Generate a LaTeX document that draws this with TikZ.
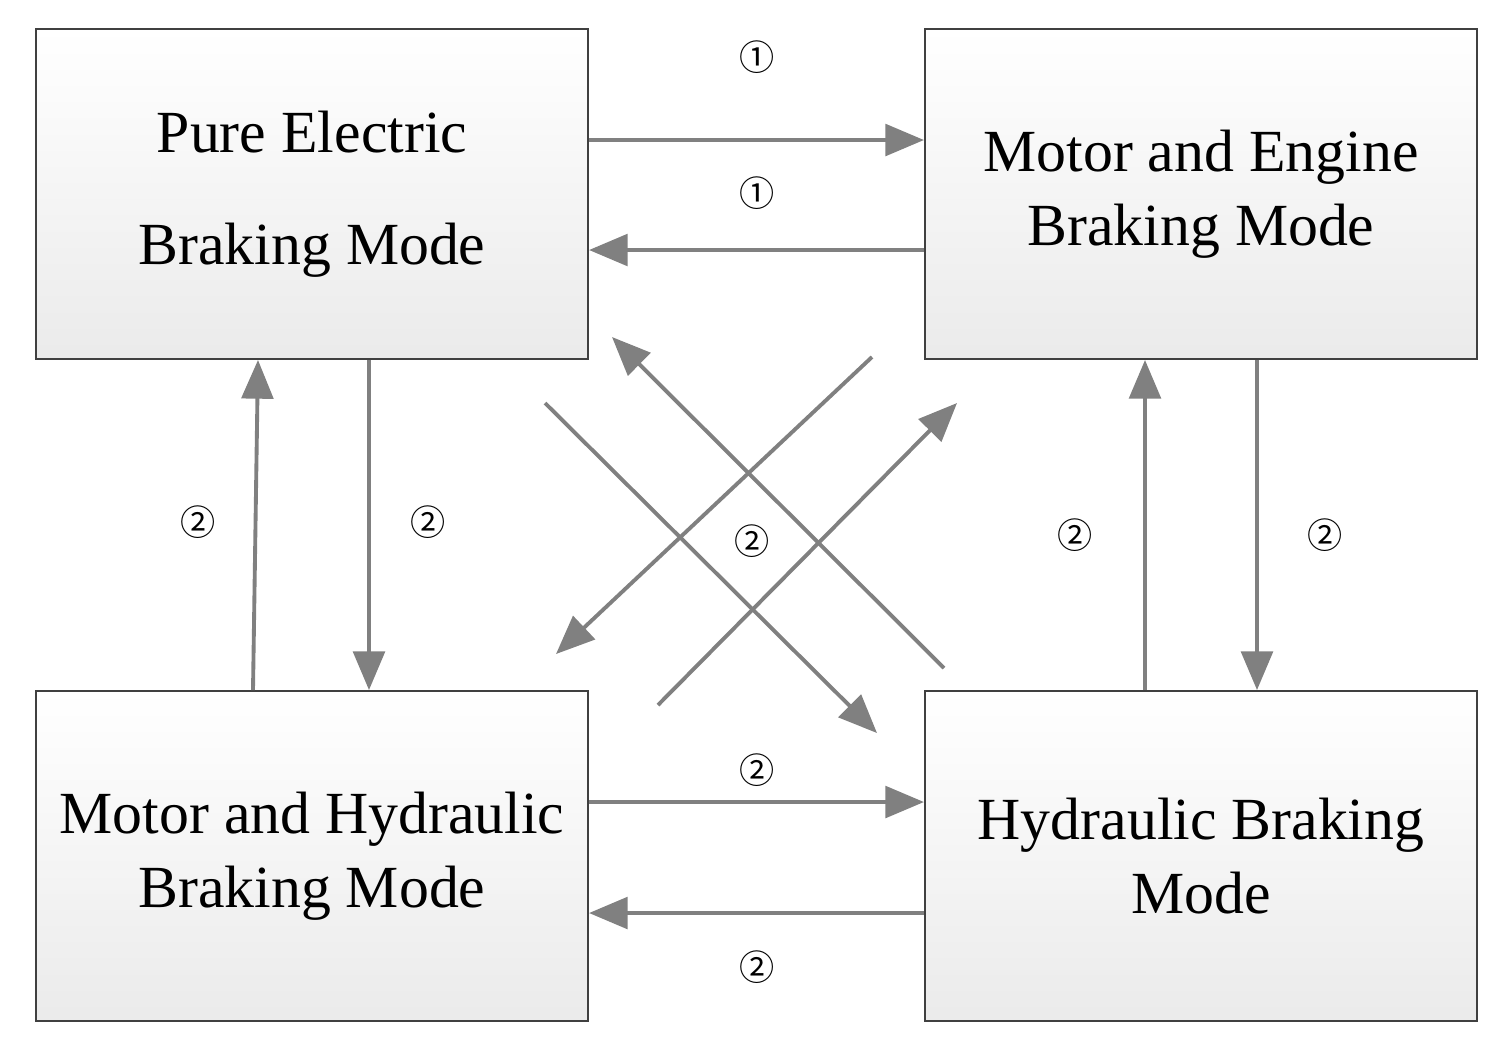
\documentclass[tikz,border=0pt]{standalone}
\usepackage{fontspec}
\setmainfont{Liberation Serif}
\newfontfamily\cjk{Noto Sans CJK SC}
\usetikzlibrary{arrows.meta, positioning}
\definecolor{arrowgray}{RGB}{128,128,128}
\tikzset{
  mode/.style={draw=black!75, line width=0.5pt, top color=white, bottom color=black!8,
    minimum width=5.52cm, minimum height=3.3cm, inner sep=0pt, align=center,
    font=\fontsize{17}{21}\selectfont},
  trans/.style={draw=arrowgray, line width=1.1pt, -{Triangle[length=11pt, width=9pt]}},
  num/.style={font=\cjk\fontsize{10}{12}\selectfont, inner sep=0pt}
}
\begin{document}
\begin{tikzpicture}[x=0.01cm, y=-0.01cm]
\useasboundingbox (0,0) rectangle (1497,1053);
% mode boxes
\node[mode] (pem) at (312,194) {Pure Electric\\[11pt]Braking Mode};
\node[mode] (mem) at (1201,194) {Motor and Engine\\Braking Mode};
\node[mode] (mhm) at (312,856) {Motor and Hydraulic\\Braking Mode};
\node[mode] (hbm) at (1201,856) {Hydraulic Braking\\Mode};
% horizontal transitions
\draw[trans] (pem.east |- 0,140) -- (mem.west |- 0,140);
\draw[trans] (mem.west |- 0,250) -- (pem.east |- 0,250);
\draw[trans] (mhm.east |- 0,802) -- (hbm.west |- 0,802);
\draw[trans] (hbm.west |- 0,913) -- (mhm.east |- 0,913);
% vertical transitions
\draw[trans] (mhm.north -| 253,0) -- (pem.south -| 258,0);
\draw[trans] (pem.south -| 369,0) -- (mhm.north -| 369,0);
\draw[trans] (hbm.north -| 1145,0) -- (mem.south -| 1145,0);
\draw[trans] (mem.south -| 1257,0) -- (hbm.north -| 1257,0);
% diagonal transitions
\coordinate (d1s) at (545,403);  \coordinate (d1e) at (877,733);
\coordinate (d2s) at (944,668);  \coordinate (d2e) at (612,337);
\coordinate (d3s) at (872,357);  \coordinate (d3e) at (556,654);
\coordinate (d4s) at (658,705);  \coordinate (d4e) at (957,403);
\draw[trans] (d1s) -- (d1e);
\draw[trans] (d2s) -- (d2e);
\draw[trans] (d3s) -- (d3e);
\draw[trans] (d4s) -- (d4e);
% condition labels
\node[num] at (757,57) {①};
\node[num] at (757,193) {①};
\node[num] at (198,522) {②};
\node[num] at (428,522) {②};
\node[num] at (752,541) {②};
\node[num] at (1075,535) {②};
\node[num] at (1325,535) {②};
\node[num] at (757,770) {②};
\node[num] at (757,967) {②};
\end{tikzpicture}
\end{document}
